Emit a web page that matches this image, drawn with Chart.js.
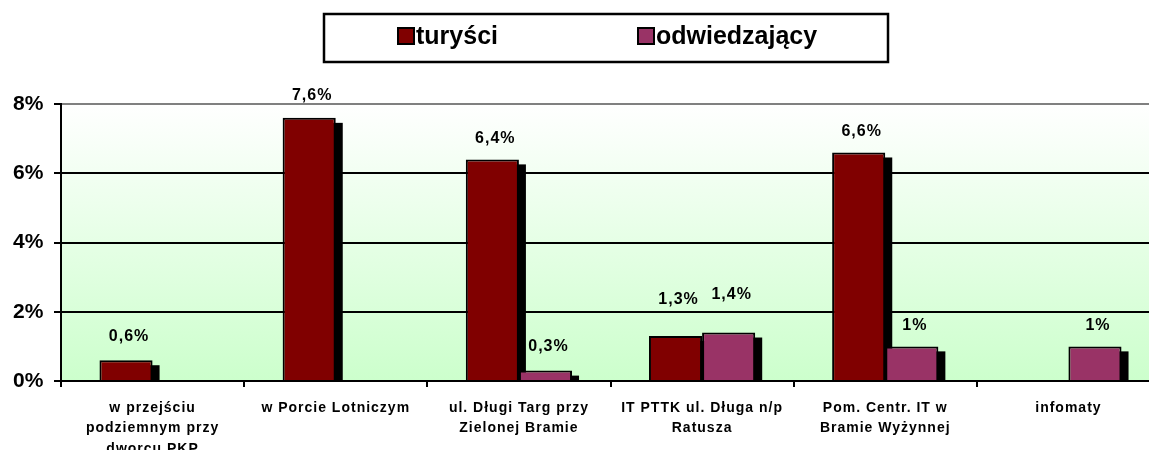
<!DOCTYPE html>
<html>
<head>
<meta charset="utf-8">
<script src="https://cdn.jsdelivr.net/npm/chart.js@4/dist/chart.umd.min.js"></script>
<style>
  html, body { margin: 0; padding: 0; background: #fff; overflow: hidden; }
  #wrap { width: 1162px; height: 450px; }
</style>
</head>
<body>
<div id="wrap"><canvas id="chart"></canvas></div>
<script>
const categories = [
  ['w przejściu', 'podziemnym przy', 'dworcu PKP'],
  ['w Porcie Lotniczym'],
  ['ul. Długi Targ przy', 'Zielonej Bramie'],
  ['IT PTTK ul. Długa n/p', 'Ratusza'],
  ['Pom. Centr. IT w', 'Bramie Wyżynnej'],
  ['infomaty']
];
const seriesNames = ['turyści', 'odwiedzający'];
const turysci = [0.6, 7.6, 6.4, 1.3, 6.6, null];
const odwiedzajacy = [null, null, 0.3, 1.4, 1, 1];
const colors = ['#800000', '#993366'];
const yTicks = [0, 2, 4, 6, 8];

// how far above the bar each value label sits (px)
const labelLift = [
  [24, 22, 21, 36, 21, 21],
  [22, 22, 24, 38, 21, 21]
];

const FONT = "'Liberation Sans', Arial, sans-serif";

function fmt(v) {
  return Number.isInteger(v) ? v + '%' : v.toFixed(1).replace('.', ',') + '%';
}

// gradient behind the plot
const plotBg = {
  id: 'plotBg',
  beforeDraw(chart) {
    const { ctx, chartArea: a } = chart;
    const g = ctx.createLinearGradient(0, a.top, 0, a.bottom);
    g.addColorStop(0, '#ffffff');
    g.addColorStop(1, '#ccffcc');
    ctx.save();
    ctx.fillStyle = g;
    ctx.fillRect(a.left, a.top, a.right - a.left, a.bottom - a.top);
    ctx.restore();

    // wider letters on x labels, like the original
    const sx = chart.scales.x;
    if (!sx._wrapped) {
      const orig = sx.drawLabels;
      sx.drawLabels = function (area) {
        this.ctx.save();
        this.ctx.letterSpacing = '1px';
        orig.call(this, area);
        this.ctx.restore();
      };
      sx._wrapped = true;
    }
  }
};

// black drop shadow on bars, drawn before the bars themselves
const barShadow = {
  id: 'barShadow',
  beforeDatasetsDraw(chart) {
    const { ctx, chartArea: a } = chart;
    ctx.save();
    ctx.beginPath();
    ctx.rect(a.left, a.top, a.right - a.left, a.bottom - a.top);
    ctx.clip();
    ctx.fillStyle = '#000';
    chart.data.datasets.forEach((ds, i) => {
      chart.getDatasetMeta(i).data.forEach((bar, j) => {
        if (ds.data[j] == null) return;
        const p = bar.getProps(['x', 'y', 'base', 'width']);
        ctx.fillRect(p.x - p.width / 2 + 7, p.y + 5, p.width, p.base - p.y);
      });
    });
    ctx.restore();
  }
};

const valueLabels = {
  id: 'valueLabels',
  afterDatasetsDraw(chart) {
    const ctx = chart.ctx;
    ctx.save();
    ctx.font = 'bold 16px ' + FONT;
    ctx.letterSpacing = '1px';
    ctx.fillStyle = '#000';
    ctx.textAlign = 'center';
    ctx.textBaseline = 'middle';
    chart.data.datasets.forEach((ds, i) => {
      chart.getDatasetMeta(i).data.forEach((bar, j) => {
        const v = ds.data[j];
        if (v == null) return;
        ctx.fillText(fmt(v), bar.x + 3, bar.y - labelLift[i][j]);
      });
    });
    ctx.restore();
  }
};

const boxLegend = {
  id: 'boxLegend',
  afterDraw(chart) {
    const ctx = chart.ctx;
    ctx.save();
    ctx.lineWidth = 2.5;
    ctx.strokeStyle = '#000';
    ctx.strokeRect(324, 14, 564, 48);
    ctx.font = 'bold 25px ' + FONT;
    ctx.textBaseline = 'middle';
    ctx.textAlign = 'left';
    const xs = [398, 638];
    seriesNames.forEach((name, i) => {
      ctx.fillStyle = colors[i];
      ctx.fillRect(xs[i], 28, 16, 16);
      ctx.lineWidth = 2;
      ctx.strokeRect(xs[i], 28, 16, 16);
      ctx.fillStyle = '#000';
      ctx.fillText(name, xs[i] + 18, 37);
    });
    ctx.restore();
  }
};

new Chart(document.getElementById('chart'), {
  type: 'bar',
  data: {
    labels: categories,
    datasets: [
      { label: seriesNames[0], data: turysci, backgroundColor: colors[0] },
      { label: seriesNames[1], data: odwiedzajacy, backgroundColor: colors[1] }
    ]
  },
  options: {
    responsive: true,
    maintainAspectRatio: false,
    animation: false,
    layout: { padding: { top: 104, left: 13, right: 2, bottom: 0 } },
    datasets: {
      bar: {
        categoryPercentage: 0.58,
        barPercentage: 1,
        borderColor: '#000',
        borderWidth: 2,
        clip: 0
      }
    },
    plugins: {
      legend: { display: false },
      tooltip: { enabled: false }
    },
    scales: {
      x: {
        z: 1,
        grid: {
          drawOnChartArea: false,
          drawTicks: true,
          tickLength: 6,
          color: '#000',
          lineWidth: 2
        },
        border: { color: '#000', width: 2 },
        ticks: {
          color: '#000',
          font: { family: FONT, size: 14, weight: 'bold', lineHeight: 1.45 },
          padding: 11,
          autoSkip: false,
          maxRotation: 0
        },
        afterFit(s) { s.height = 69; }
      },
      y: {
        min: 0,
        max: 8,
        afterBuildTicks(s) { s.ticks = yTicks.map(v => ({ value: v })); },
        grid: {
          color: c => (c.tick && c.tick.value === 8 ? '#808080' : '#000'),
          tickColor: '#000',
          lineWidth: 2,
          tickLength: 7
        },
        border: { color: '#000', width: 2 },
        ticks: {
          color: '#000',
          crossAlign: 'far',
          font: { family: FONT, size: 21, weight: 'bold' },
          callback: v => v + '%'
        },
        afterFit(s) { s.width = 48; }
      }
    }
  },
  plugins: [plotBg, barShadow, valueLabels, boxLegend]
});
</script>
</body>
</html>
